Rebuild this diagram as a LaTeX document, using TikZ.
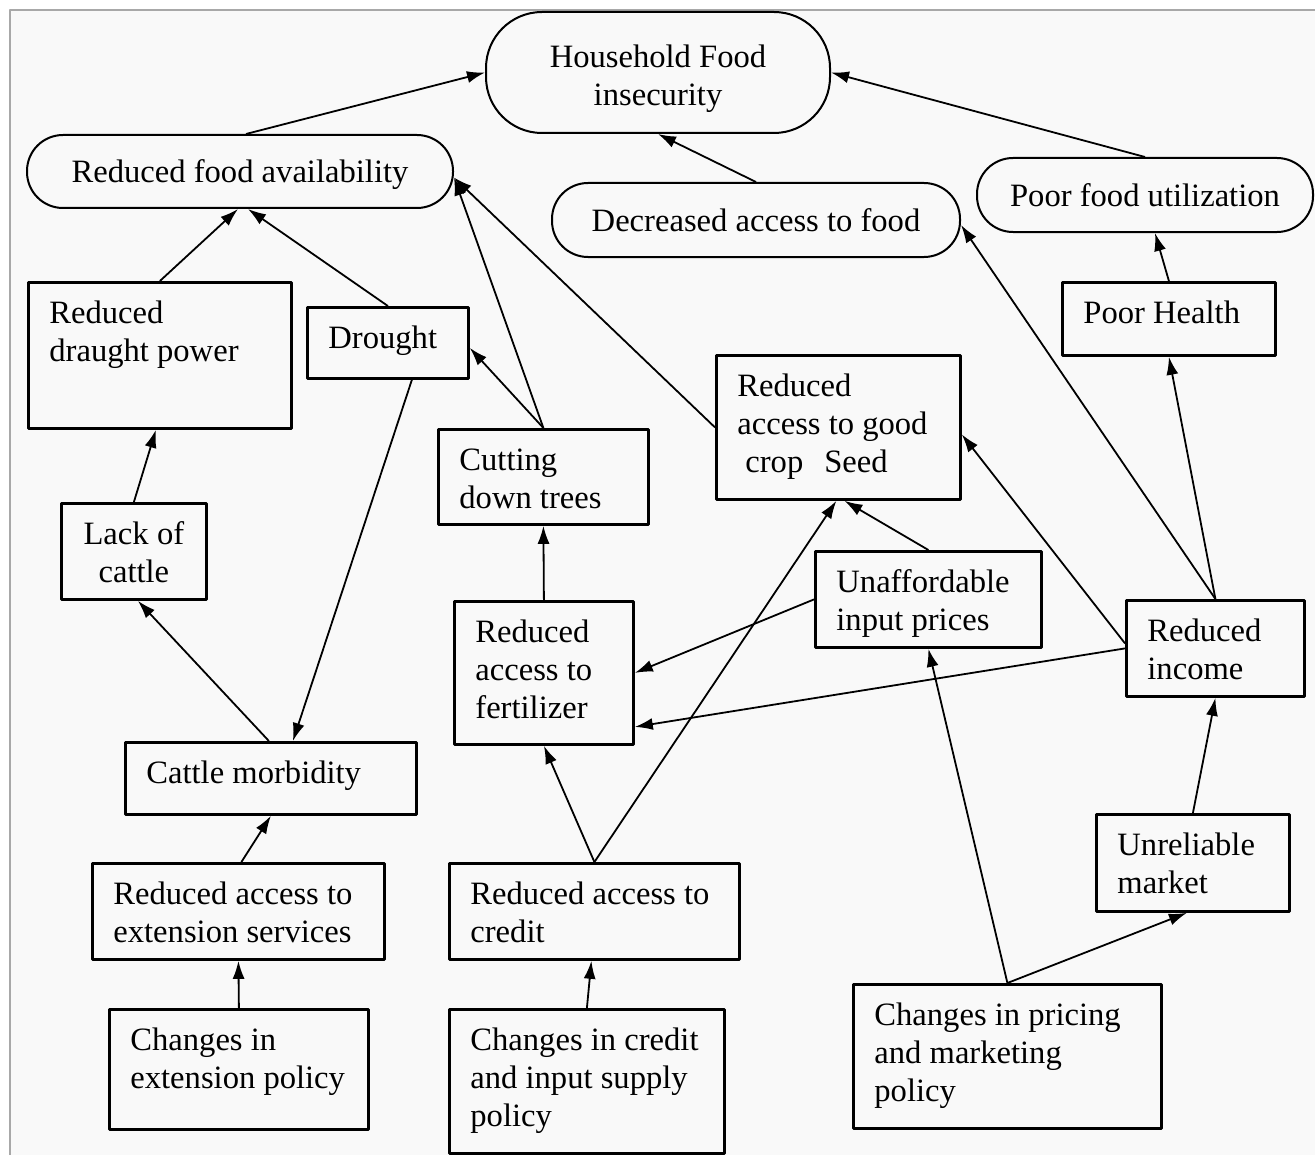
\documentclass[tikz,border=0pt]{standalone}
\usepackage{fontspec}
\setmainfont{Liberation Serif}
\usetikzlibrary{arrows.meta}
\definecolor{paper}{HTML}{F9F9F9}
\definecolor{frameline}{HTML}{A8A8A8}
\begin{document}
\begin{tikzpicture}[x=0.5pt,y=-0.5pt,>={Latex[length=9pt,width=6pt]},line join=bevel,
    cause/.style={draw=black,line width=1.4pt,rectangle,anchor=north west,inner xsep=10.5pt,inner ysep=0pt,
      align=left,text height=20.5pt,font=\fontsize{16.3}{19}\selectfont,
      execute at begin node={\spaceskip=0pt\relax\xspaceskip=0pt\relax}},
    oval/.style={draw=black,line width=1pt,rectangle,rounded corners=18pt,inner sep=0pt,
      align=center,font=\fontsize{16.3}{19}\selectfont},
    link/.style={->,line width=0.9pt}]
    \useasboundingbox (0,0) rectangle (1315,1155);
    \fill [paper] (10,10) rectangle (1315,1155);
    \draw [frameline,line width=1pt] (10,1155) -- (10,10) -- (1315,10);
    %%
    \node (hfi) at (658,72.5) [oval,rounded corners=28pt,minimum width=172pt,minimum height=60.5pt,text height=37pt] {Household Food\\insecurity};
    \node (rfa) at (240,171.5) [oval,minimum width=213pt,minimum height=36.5pt,text height=15pt] {Reduced food availability};
    \node (daf) at (756,220) [oval,minimum width=204pt,minimum height=37pt] {Decreased access to food};
    \node (pfu) at (1145,195) [oval,minimum width=168pt,minimum height=37pt] {Poor food utilization};
    %
    \node (rdp) at (27,281) [cause,text width=110.5pt,text depth=52.5pt] {Reduced\\draught power};
    \node (drought) at (306,306) [cause,text width=59.5pt,text depth=15pt] {Drought};
    \node (rags) at (715,354) [cause,text width=101pt,text depth=51.5pt] {Reduced\\access to good\\\hspace*{4pt}crop\hspace{10.5pt}Seed};
    \node (ph) at (1061,281) [cause,text width=85.5pt,text depth=16pt] {Poor Health};
    \node (cdt) at (437,428) [cause,text width=84pt,text depth=27pt] {Cutting\\down trees};
    \node (loc) at (60,502) [cause,inner xsep=9pt,text width=54.5pt,text depth=27.5pt,align=center] {Lack of\\cattle};
    \node (uip) at (814,550) [cause,text width=92pt,text depth=27.5pt] {Unaffordable\\input prices};
    \node (raf) at (453,600) [cause,text width=68.5pt,text depth=51pt] {Reduced\\access to\\fertilizer};
    \node (ri) at (1125,599) [cause,text width=68pt,text depth=27.5pt] {Reduced\\income};
    \node (cm) at (124,741) [cause,text width=124.5pt,text depth=15.5pt] {Cattle morbidity};
    \node (um) at (1095,813) [cause,text width=75.5pt,text depth=28pt] {Unreliable\\market};
    \node (raes) at (91,862) [cause,text width=125pt,text depth=27.5pt] {Reduced access to\\extension services};
    \node (rac) at (448,862) [cause,text width=124pt,text depth=27.5pt] {Reduced access to\\credit};
    \node (cep) at (108,1008) [cause,text width=108.5pt,text depth=39.5pt] {Changes in\\extension policy};
    \node (ccis) at (448,1008) [cause,text width=116.5pt,text depth=51.5pt] {Changes in credit\\and input supply\\policy};
    \node (cpmp) at (852,983) [cause,text width=133pt,text depth=51.5pt] {Changes in pricing\\and marketing\\policy};
    %
    \draw [link] ([xshift=3pt]rfa.north) -- (hfi.west);
    \draw [link] (pfu.north) -- (hfi.east);
    \draw [link] (daf.north) -- (hfi.south);
    \draw [link] (rdp.north) -- ([xshift=-1pt]rfa.south);
    \draw [link] (drought.north) -- ([xshift=4pt]rfa.south);
    \draw [link] (cdt.north) -- ([yshift=-3pt]rfa.east);
    \draw [link] (cdt.north) -- ([yshift=-2.5pt]drought.east);
    \draw [link] (rags.west) -- ([yshift=-3pt]rfa.east);
    \draw [link] (loc.north) -- ([xshift=-2pt]rdp.south);
    \draw [link] ([xshift=-1pt]cm.north) -- ([xshift=2pt]loc.south);
    \draw [link] ([xshift=12pt]drought.south) -- ([xshift=11pt]cm.north);
    \draw [link] ([xshift=1.5pt]raes.north) -- (cm.south);
    \draw [link] (cep.north) -- (raes.south);
    \draw [link] (raf.north) -- (cdt.south);
    \draw [link] (uip.west) -- (raf.east);
    \draw [link] (ri.west) -- ([yshift=-27pt]raf.east);
    \draw [link] (rac.north) -- (raf.south);
    \draw [link] (rac.north) -- ([xshift=-1pt]rags.south);
    \draw [link] (uip.north) -- ([xshift=3pt]rags.south);
    \draw [link] ([yshift=2.5pt]ri.west) -- ([yshift=-3.5pt]rags.east);
    \draw [link] (ri.north) -- ([yshift=-2.5pt]daf.east);
    \draw [link] (ri.north) -- (ph.south);
    \draw [link] (ph.north) -- ([xshift=5pt]pfu.south);
    \draw [link] (um.north) -- (ri.south);
    \draw [link] (cpmp.north) -- ([xshift=-3pt]um.south);
    \draw [link] (cpmp.north) -- (uip.south);
    \draw [link] (ccis.north) -- ([xshift=-1.5pt]rac.south);
    %
\end{tikzpicture}
\end{document}
